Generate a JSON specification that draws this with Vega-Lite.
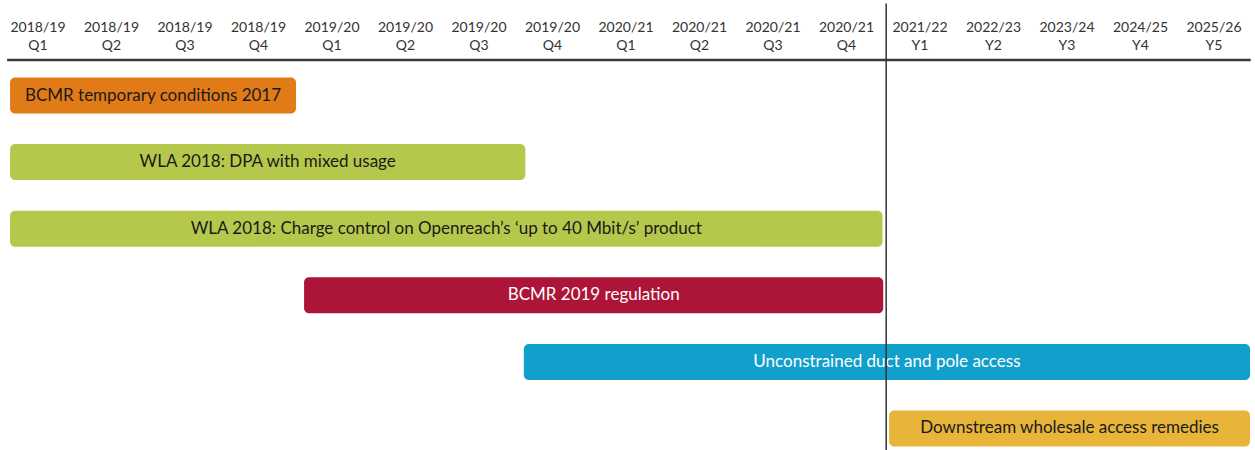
{
  "$schema": "https://vega.github.io/schema/vega-lite/v6.json",
  "width": 1255,
  "height": 450,
  "padding": 0,
  "autosize": {"type": "none"},
  "config": {"view": {"stroke": null}},
  "datasets": {
    "header": [
      {"col": 0.5, "label": "2018/19\nQ1"},
      {"col": 1.5, "label": "2018/19\nQ2"},
      {"col": 2.5, "label": "2018/19\nQ3"},
      {"col": 3.5, "label": "2018/19\nQ4"},
      {"col": 4.5, "label": "2019/20\nQ1"},
      {"col": 5.5, "label": "2019/20\nQ2"},
      {"col": 6.5, "label": "2019/20\nQ3"},
      {"col": 7.5, "label": "2019/20\nQ4"},
      {"col": 8.5, "label": "2020/21\nQ1"},
      {"col": 9.5, "label": "2020/21\nQ2"},
      {"col": 10.5, "label": "2020/21\nQ3"},
      {"col": 11.5, "label": "2020/21\nQ4"},
      {"col": 12.5, "label": "2021/22\nY1"},
      {"col": 13.5, "label": "2022/23\nY2"},
      {"col": 14.5, "label": "2023/24\nY3"},
      {"col": 15.5, "label": "2024/25\nY4"},
      {"col": 16.5, "label": "2025/26\nY5"}
    ],
    "bars": [
      {"row": 0, "start": 0.12, "end": 4.01, "label": "BCMR temporary conditions 2017", "fill": "#E07B18", "textColor": "#1a1a1a"},
      {"row": 1, "start": 0.12, "end": 7.13, "label": "WLA 2018: DPA with mixed usage", "fill": "#B5C84B", "textColor": "#1a1a1a"},
      {"row": 2, "start": 0.12, "end": 11.99, "label": "WLA 2018: Charge control on Openreach’s ‘up to 40 Mbit/s’ product", "fill": "#B5C84B", "textColor": "#1a1a1a"},
      {"row": 3, "start": 4.12, "end": 12.0, "label": "BCMR 2019 regulation", "fill": "#AD1538", "textColor": "#ffffff"},
      {"row": 4, "start": 7.11, "end": 16.99, "label": "Unconstrained duct and pole access", "fill": "#11A0CC", "textColor": "#ffffff"},
      {"row": 5, "start": 12.08, "end": 16.99, "label": "Downstream wholesale access remedies", "fill": "#E8B43A", "textColor": "#1a1a1a"}
    ],
    "hline": [{"x1": 0.08, "x2": 17.0, "row": -0.533}],
    "vline": [{"col": 12.04, "y1": -1.38, "y2": 5.323}]
  },
  "encoding": {
    "x": {"type": "quantitative", "scale": {"domain": [-0.017, 17.058], "nice": false, "zero": false, "padding": 0}, "axis": null},
    "y": {"type": "quantitative", "scale": {"domain": [-1.434, 5.323], "nice": false, "zero": false, "reverse": true, "padding": 0}, "axis": null}
  },
  "layer": [
    {
      "data": {"name": "bars"},
      "mark": {"type": "bar", "orient": "horizontal", "size": 36, "cornerRadius": 5},
      "encoding": {
        "x": {"field": "start", "type": "quantitative"},
        "x2": {"field": "end"},
        "y": {"field": "row", "type": "quantitative"},
        "fill": {"field": "fill", "type": "nominal", "scale": null}
      }
    },
    {
      "data": {"name": "bars"},
      "transform": [{"calculate": "(datum.start + datum.end) / 2", "as": "mid"}],
      "mark": {"type": "text", "font": "Lato", "fontSize": 17, "align": "center", "baseline": "middle"},
      "encoding": {
        "x": {"field": "mid", "type": "quantitative"},
        "y": {"field": "row", "type": "quantitative"},
        "text": {"field": "label"},
        "color": {"field": "textColor", "type": "nominal", "scale": null}
      }
    },
    {
      "data": {"name": "header"},
      "mark": {"type": "text", "font": "Lato", "fontSize": 14, "align": "center", "baseline": "middle", "lineBreak": "\n", "lineHeight": 18, "color": "#333333"},
      "encoding": {
        "x": {"field": "col", "type": "quantitative"},
        "y": {"datum": -1.014, "type": "quantitative"},
        "text": {"field": "label"}
      }
    },
    {
      "data": {"name": "hline"},
      "mark": {"type": "rule", "color": "#3a3a3a", "strokeWidth": 2.5},
      "encoding": {
        "x": {"field": "x1", "type": "quantitative"},
        "x2": {"field": "x2"},
        "y": {"field": "row", "type": "quantitative"}
      }
    },
    {
      "data": {"name": "vline"},
      "mark": {"type": "rule", "color": "#333333", "strokeWidth": 1.5},
      "encoding": {
        "x": {"field": "col", "type": "quantitative"},
        "y": {"field": "y1", "type": "quantitative"},
        "y2": {"field": "y2"}
      }
    }
  ]
}
